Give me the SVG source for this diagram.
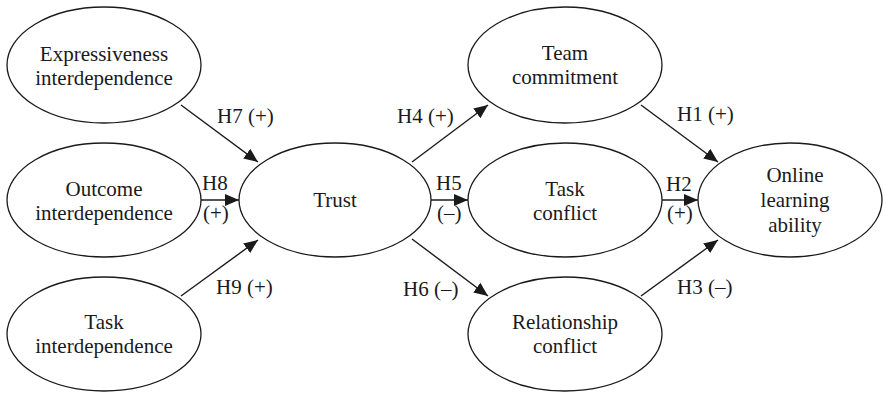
<svg xmlns="http://www.w3.org/2000/svg" width="883" height="393" viewBox="0 0 883 393">
<style>
.n{fill:#fff;stroke:#1a1a1a;stroke-width:1.3}
.t{font-family:"Liberation Serif","Times New Roman",serif;font-size:21px;fill:#1a1a1a;text-anchor:middle}
.l{font-family:"Liberation Serif","Times New Roman",serif;font-size:21px;fill:#1a1a1a}
.c line{stroke:#1a1a1a;stroke-width:1.4;marker-end:url(#ah)}
</style>
<defs>
<marker id="ah" markerUnits="userSpaceOnUse" markerWidth="15" markerHeight="13" refX="14" refY="6" orient="auto">
<path d="M0,0 L14,6 L0,12 z" fill="#1a1a1a"/>
</marker>
</defs>
<rect width="883" height="393" fill="#fff"/>
<g id="expressiveness">
<ellipse class="n" cx="104" cy="65" rx="97" ry="58"/>
<text class="t" x="104" y="61">Expressiveness</text>
<text class="t" x="104" y="85">interdependence</text>
</g>
<g id="outcome">
<ellipse class="n" cx="104" cy="200" rx="97" ry="57"/>
<text class="t" x="104" y="196">Outcome</text>
<text class="t" x="104" y="220">interdependence</text>
</g>
<g id="taskinter">
<ellipse class="n" cx="104" cy="334" rx="97" ry="57"/>
<text class="t" x="104" y="329">Task</text>
<text class="t" x="104" y="353">interdependence</text>
</g>
<g id="trust">
<ellipse class="n" cx="335" cy="200" rx="96" ry="57"/>
<text class="t" x="335" y="207">Trust</text>
</g>
<g id="team">
<ellipse class="n" cx="565" cy="65" rx="97" ry="58"/>
<text class="t" x="565" y="60">Team</text>
<text class="t" x="565" y="84">commitment</text>
</g>
<g id="taskconflict">
<ellipse class="n" cx="565" cy="200" rx="97" ry="57"/>
<text class="t" x="565" y="196">Task</text>
<text class="t" x="565" y="220">conflict</text>
</g>
<g id="relationship">
<ellipse class="n" cx="565" cy="334" rx="97" ry="57"/>
<text class="t" x="565" y="329">Relationship</text>
<text class="t" x="565" y="353">conflict</text>
</g>
<g id="online">
<ellipse class="n" cx="790" cy="200" rx="92" ry="57"/>
<text class="t" x="795" y="182">Online</text>
<text class="t" x="795" y="207">learning</text>
<text class="t" x="795" y="232">ability</text>
</g>
<g id="connectors" class="c">
<line x1="181" y1="105" x2="258" y2="162"/>
<line x1="201" y1="200" x2="239" y2="200"/>
<line x1="181" y1="296" x2="258" y2="240"/>
<line x1="412" y1="162" x2="488" y2="105"/>
<line x1="431" y1="200" x2="468" y2="200"/>
<line x1="412" y1="239" x2="488" y2="296"/>
<line x1="641" y1="105" x2="718" y2="162"/>
<line x1="662" y1="200" x2="698" y2="200"/>
<line x1="641" y1="296" x2="718" y2="240"/>
</g>
<g id="labels">
<text class="l" x="217" y="123">H7 (+)</text>
<text class="l" x="202" y="190">H8</text>
<text class="l" x="203" y="220">(+)</text>
<text class="l" x="216" y="294">H9 (+)</text>
<text class="l" x="397" y="123">H4 (+)</text>
<text class="l" x="436" y="190">H5</text>
<text class="l" x="437" y="220">(–)</text>
<text class="l" x="403" y="296">H6 (–)</text>
<text class="l" x="677" y="121">H1 (+)</text>
<text class="l" x="666" y="191">H2</text>
<text class="l" x="667" y="220">(+)</text>
<text class="l" x="677" y="294">H3 (–)</text>
</g>
</svg>
